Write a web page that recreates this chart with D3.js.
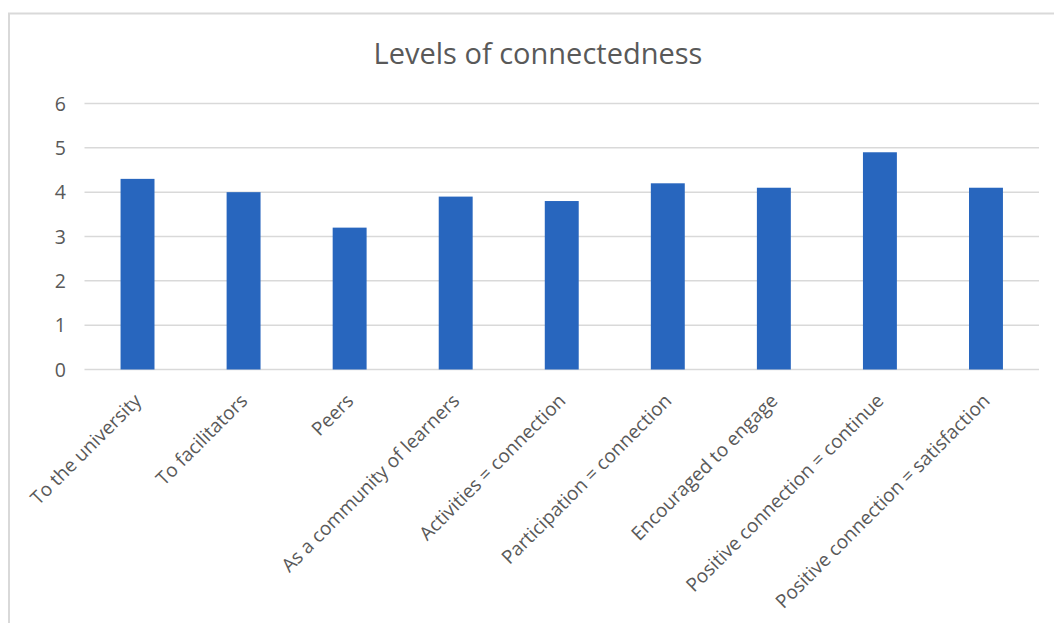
<!DOCTYPE html>
<html>
<head>
<meta charset="utf-8">
<script src="https://d3js.org/d3.v7.min.js"></script>
<style>
  body { margin: 0; background: #fff; }
  text { font-family: "Open Sans", sans-serif; fill: #595959; }
</style>
</head>
<body>
<svg width="1054" height="623"></svg>
<script>
// chart data
var categories = [
  "To the university",
  "To facilitators",
  "Peers",
  "As a community of learners",
  "Activities = connection",
  "Participation = connection",
  "Encouraged to engage",
  "Positive connection = continue",
  "Positive connection = satisfaction"
];
var values = [4.3, 4.0, 3.2, 3.9, 3.8, 4.2, 4.1, 4.9, 4.1];
var yTicks = [0, 1, 2, 3, 4, 5, 6];
var title = "Levels of connectedness";

var svg = d3.select("svg"),
  width = +svg.attr("width"),
  height = +svg.attr("height");

var margin = {top: 103.5, left: 84.5, right: 15, bottom: 253.5};

// chart frame (only top + left visible in the crop)
svg.append("path")
  .attr("d", "M9,624 L9,13.5 L1055,13.5")
  .attr("fill", "none")
  .attr("stroke", "#d9d9d9")
  .attr("stroke-width", 2);

var x = d3.scaleBand()
  .domain(categories)
  .range([margin.left, width - margin.right])
  .paddingInner(0.68)
  .paddingOuter(0.34);

var y = d3.scaleLinear()
  .domain([0, 6])
  .range([height - margin.bottom, margin.top]);

// gridlines
svg.append("g")
  .attr("class", "grid")
  .selectAll("line")
  .data(yTicks)
  .enter().append("line")
    .attr("x1", margin.left)
    .attr("x2", width - margin.right)
    .attr("y1", function(d) { return y(d); })
    .attr("y2", function(d) { return y(d); })
    .attr("stroke", "#d9d9d9")
    .attr("stroke-width", 1.5);

// y labels
svg.append("g")
  .selectAll("text")
  .data(yTicks)
  .enter().append("text")
    .attr("x", 66)
    .attr("y", function(d) { return y(d); })
    .attr("dy", "0.36em")
    .attr("text-anchor", "end")
    .style("font-size", "19.5px")
    .text(function(d) { return d; });

// bars
svg.append("g")
  .selectAll("rect")
  .data(values)
  .enter().append("rect")
    .attr("x", function(d, i) { return x(categories[i]); })
    .attr("y", function(d) { return y(d); })
    .attr("width", x.bandwidth())
    .attr("height", function(d) { return y(0) - y(d); })
    .attr("fill", "#2866be");

// category labels
svg.append("g")
  .selectAll("text")
  .data(categories)
  .enter().append("text")
    .attr("transform", function(d) {
      return "translate(" + (x(d) + x.bandwidth() / 2 + 5) + ",402) rotate(-45)";
    })
    .attr("text-anchor", "end")
    .style("font-size", "19px")
    .text(function(d) { return d; });

// title
svg.append("text")
  .attr("x", 538)
  .attr("y", 64)
  .attr("text-anchor", "middle")
  .style("font-size", "29px")
  .text(title);
</script>
</body>
</html>
